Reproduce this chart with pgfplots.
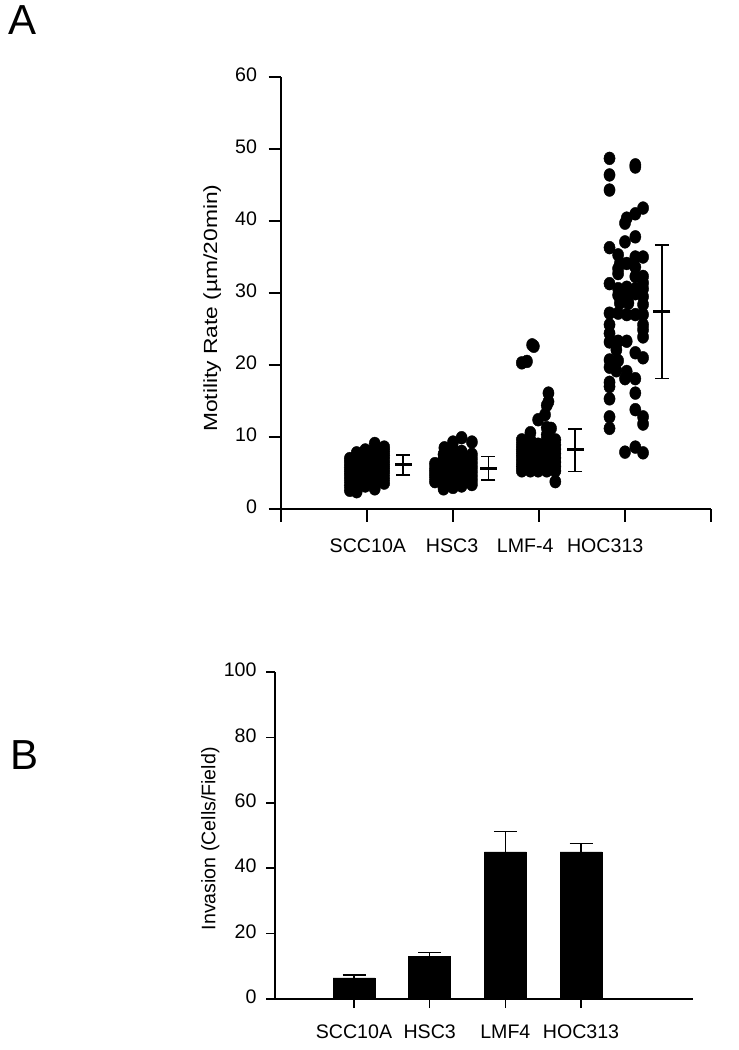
\documentclass[border=0pt]{standalone}
\usepackage{fontspec}
\setmainfont{Liberation Sans}
\usepackage{pgfplots}
\pgfplotsset{compat=1.18}
\begin{document}
\begin{tikzpicture}
\path[use as bounding box] (0,0) rectangle (739pt,-1050pt);
\node[anchor=north west, inner sep=0pt, font=\fontsize{42}{46}\selectfont] at (8pt,-5pt) {A};
\node[anchor=north west, inner sep=0pt, font=\fontsize{42}{46}\selectfont] at (10pt,-740pt) {B};
% ---------------- Panel A ----------------
\begin{axis}[
  at={(281pt,-509pt)}, anchor=south west,
  scale only axis, width=430pt, height=432pt,
  xmin=0, xmax=5, ymin=0, ymax=60,
  axis lines*=left,
  axis line style={line width=1.6pt},
  tick align=outside,
  tick style={line width=1.6pt, black},
  major tick length=12.5pt,
  xtick={0,1,2,3,4,5}, xticklabels={},
  ytick={0,10,20,30,40,50,60},
  /pgf/number format/assume math mode=true,
  typeset ticklabels with strut,
  tick label style={font=\fontsize{19.6}{23}\selectfont},
  yticklabel style={xshift=-8pt},
  extra x ticks={1.01,1.99,2.84,3.77},
  extra x tick labels={SCC10A,HSC3,LMF-4,HOC313},
  extra x tick style={major tick length=0pt, tick label style={yshift=-24pt}},
  ylabel={\scalebox{1.2}[1]{Motility Rate (µm/20min)}},
  ylabel style={font=\fontsize{19}{22}\selectfont, at={(axis description cs:-0.16,0.465)}, anchor=center},
  clip=false,
]
\addplot[only marks, mark=*, mark size=5.6pt, mark options={fill=black, draw=black, yscale=1.15}] table {
x y
0.80 2.6
0.80 3.3
0.80 4.0
0.80 4.6
0.80 5.2
0.80 5.8
0.80 6.4
0.80 7.0
0.88 2.4
0.88 3.0
0.88 3.7
0.88 4.4
0.88 5.0
0.88 5.6
0.88 6.2
0.88 6.8
0.88 7.4
0.88 7.8
0.98 3.2
0.98 3.9
0.98 4.6
0.98 5.2
0.98 5.8
0.98 6.4
0.98 7.0
0.98 7.6
0.98 8.2
1.09 2.8
1.09 3.5
1.09 4.2
1.09 4.8
1.09 5.4
1.09 6.0
1.09 6.6
1.09 7.2
1.09 7.8
1.09 8.4
1.09 9.1
1.20 3.6
1.20 4.3
1.20 5.0
1.20 5.6
1.20 6.2
1.20 6.8
1.20 7.4
1.20 8.0
1.20 8.6
};
\addplot[only marks, mark=*, mark size=5.6pt, mark options={fill=black, draw=black, yscale=1.15}] table {
x y
1.79 3.8
1.79 4.4
1.79 5.0
1.79 5.6
1.79 6.3
1.89 2.8
1.89 3.4
1.89 4.0
1.89 4.6
1.89 5.2
1.89 5.8
1.89 6.4
1.89 7.0
1.89 7.6
1.90 8.5
2.00 3.0
2.00 3.6
2.00 4.2
2.00 4.8
2.00 5.4
2.00 6.0
2.00 6.6
2.00 7.2
2.00 7.8
2.00 8.4
2.00 9.3
2.10 3.2
2.10 3.8
2.10 4.4
2.10 5.0
2.10 5.6
2.10 6.2
2.10 6.8
2.10 7.4
2.10 8.0
2.10 9.9
2.22 3.4
2.22 4.0
2.22 4.6
2.22 5.2
2.22 5.8
2.22 6.4
2.22 7.0
2.22 7.6
2.22 9.3
};
\addplot[only marks, mark=*, mark size=5.6pt, mark options={fill=black, draw=black, yscale=1.15}] table {
x y
2.80 5.3
2.80 5.9
2.80 6.5
2.80 7.1
2.80 7.7
2.80 8.3
2.80 8.9
2.80 9.6
2.90 5.3
2.90 5.9
2.90 6.5
2.90 7.1
2.90 7.7
2.90 8.3
2.90 8.9
2.90 9.6
2.90 10.6
2.99 5.3
2.99 5.9
2.99 6.5
2.99 7.1
2.99 7.7
2.99 8.3
2.99 9.0
2.99 12.4
3.09 5.3
3.09 5.9
3.09 6.5
3.09 7.1
3.09 7.7
3.09 8.3
3.09 8.9
3.09 9.6
3.09 10.3
3.09 11.3
3.07 13.1
3.09 14.4
3.19 3.8
3.19 5.3
3.19 5.9
3.19 6.5
3.19 7.1
3.19 7.7
3.19 8.3
3.19 8.9
3.19 9.6
3.14 11.2
2.80 20.3
2.86 20.5
2.92 22.8
2.94 22.6
3.11 16.1
3.11 14.9
};
\addplot[only marks, mark=*, mark size=5.6pt, mark options={fill=black, draw=black, yscale=1.15}] table {
x y
3.82 48.7
4.12 47.5
4.12 47.8
3.82 46.4
3.82 44.3
4.21 41.8
4.12 41.0
4.02 40.4
4.00 39.7
4.12 37.8
4.00 37.1
3.82 36.3
3.92 35.3
4.12 35.0
4.21 35.0
3.94 34.1
4.02 34.1
3.92 33.4
4.12 33.6
3.92 32.7
3.82 31.3
4.12 32.3
4.21 32.3
4.21 31.4
3.92 30.6
4.02 30.8
4.12 30.6
4.21 30.6
3.92 29.7
4.02 29.7
4.12 29.9
4.21 29.5
3.94 28.6
4.04 28.6
4.21 28.4
3.82 27.2
3.92 27.2
4.02 27.0
4.12 27.0
4.21 27.0
3.82 25.6
4.21 25.6
4.21 24.9
4.21 23.9
3.82 24.4
3.82 23.2
3.92 23.3
4.02 23.3
3.90 22.1
4.12 21.7
4.21 21.0
3.82 20.7
3.92 20.6
3.82 19.7
3.90 19.2
4.02 19.1
4.00 18.1
4.12 18.1
3.82 17.6
3.82 17.0
3.82 15.3
4.12 16.1
4.12 13.8
4.21 12.8
4.21 11.8
3.82 12.8
3.82 11.2
4.00 7.9
4.12 8.6
4.21 7.8
};
% mean +- SD
\addplot[only marks, line width=3pt, mark=-, mark size=8.5pt, mark options={black, line width=3pt},
  error bars/.cd, y dir=both, y explicit,
  error bar style={line width=1.5pt, black},
  error mark options={rotate=90, mark size=7pt, line width=1.5pt, black}]
  table[x=x, y=y, y error plus=ep, y error minus=em] {
x y ep em
1.42 6.2 1.3 1.5
2.41 5.65 1.65 1.65
3.42 8.2 2.9 3.0
4.43 27.5 9.2 9.4
};
\end{axis}
% ---------------- Panel B ----------------
\begin{axis}[
  at={(275pt,-999pt)}, anchor=south west,
  scale only axis, width=418pt, height=327pt,
  xmin=-0.044, xmax=5.48, ymin=0, ymax=100,
  axis lines*=left,
  axis line style={line width=1.6pt},
  tick align=outside,
  tick style={line width=1.6pt, black},
  major tick length=9pt,
  xtick={1,2,3,4},
  xticklabels={SCC10A,HSC3,LMF4,HOC313},
  ytick={0,20,40,60,80,100},
  /pgf/number format/assume math mode=true,
  typeset ticklabels with strut,
  tick label style={font=\fontsize{19.6}{23}\selectfont},
  yticklabel style={xshift=-6pt},
  xticklabel style={yshift=-11pt},
  ylabel={Invasion (Cells/Field)},
  ylabel style={font=\fontsize{19.6}{22}\selectfont, at={(axis description cs:-0.155,0.49)}, anchor=center},
  clip=false,
]
\addplot[ybar, bar width=42pt, fill=black, draw=black,
  error bars/.cd, y dir=plus, y explicit,
  error bar style={line width=1.5pt, black},
  error mark options={rotate=90, mark size=11.5pt, line width=1.5pt, black}]
  table[x=x, y=y, y error plus=ep] {
x y ep
1 6.5 0.8
2 13.1 1.1
3 45.0 6.2
4 45.0 2.6
};
\end{axis}
\end{tikzpicture}
\end{document}
